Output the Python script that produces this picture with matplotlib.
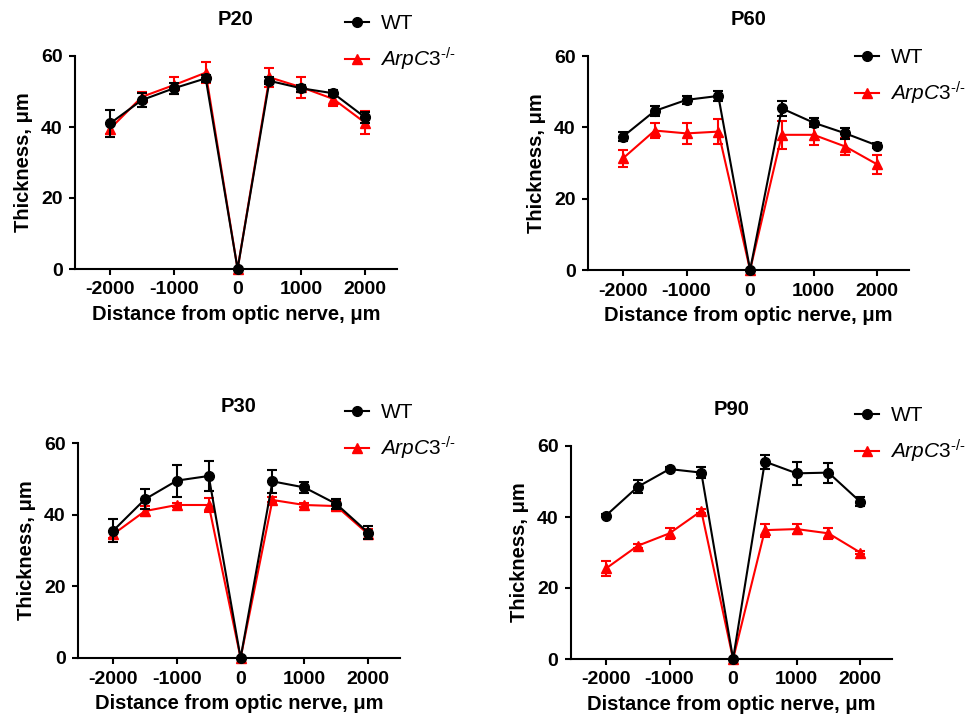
import numpy as np
import matplotlib
matplotlib.use("Agg")
import matplotlib.pyplot as plt
from matplotlib.lines import Line2D

plt.rcParams['font.family'] = ['Liberation Sans', 'DejaVu Sans']
plt.rcParams['axes.unicode_minus'] = False
plt.rcParams['mathtext.fontset'] = 'custom'
plt.rcParams['mathtext.rm'] = 'Liberation Sans'
plt.rcParams['mathtext.it'] = 'Liberation Sans:italic'

distance = [-2000, -1500, -1000, -500, 0, 500, 1000, 1500, 2000]

# P20
p20_wt = [41.0, 47.6, 50.9, 53.7, 0, 53.0, 50.9, 49.5, 42.7]
p20_wt_err = [3.7, 2.1, 1.5, 1.0, 0, 1.0, 1.0, 0.8, 1.5]
p20_ko = [39.5, 48.5, 51.8, 55.3, 0, 54.0, 51.2, 47.9, 41.2]
p20_ko_err = [1.5, 1.5, 2.4, 2.9, 0, 2.6, 3.0, 2.0, 3.3]

# P60
p60_wt = [37.4, 44.6, 47.7, 48.8, 0, 45.3, 41.3, 38.3, 34.9]
p60_wt_err = [1.2, 1.5, 1.2, 1.5, 0, 2.0, 1.2, 1.5, 0.7]
p60_ko = [31.3, 39.1, 38.3, 38.8, 0, 37.9, 37.9, 34.6, 29.6]
p60_ko_err = [2.4, 2.0, 3.0, 3.5, 0, 4.0, 2.8, 2.3, 2.6]

# P30
p30_wt = [35.5, 44.3, 49.5, 50.8, 0, 49.3, 47.6, 43.0, 35.0]
p30_wt_err = [3.2, 2.8, 4.5, 4.3, 0, 3.2, 1.6, 1.5, 1.8]
p30_ko = [34.5, 41.0, 42.7, 42.7, 0, 44.1, 42.7, 42.4, 34.6]
p30_ko_err = [1.0, 1.3, 0.5, 2.0, 0, 0.7, 0.5, 1.3, 1.5]

# P90
p90_wt = [40.4, 48.5, 53.5, 52.5, 0, 55.6, 52.3, 52.5, 44.3]
p90_wt_err = [0.5, 1.8, 0.5, 1.5, 0, 2.0, 3.2, 2.8, 1.2]
p90_ko = [25.5, 31.9, 35.4, 41.7, 0, 36.3, 36.6, 35.4, 30.0]
p90_ko_err = [2.2, 0.5, 1.5, 0.5, 0, 1.8, 1.3, 1.5, 0.5]

titles = ['P20', 'P60', 'P30', 'P90']
wt_data = [p20_wt, p60_wt, p30_wt, p90_wt]
wt_errs = [p20_wt_err, p60_wt_err, p30_wt_err, p90_wt_err]
ko_data = [p20_ko, p60_ko, p30_ko, p90_ko]
ko_errs = [p20_ko_err, p60_ko_err, p30_ko_err, p90_ko_err]

W, H = 971, 725
# axes boxes in pixels: left, right, top, bottom
boxes = [(75, 397, 56, 269), (588, 909, 56, 270), (78, 400, 443, 658), (571, 892, 446, 659)]
# legend anchor (pixels): handle start x, top y
legend_pos = [(345, 14), (855, 48), (345, 403), (855, 406)]

KO_RED = '#ff0000'
ko_label = r'$\mathit{ArpC3}^{\mathit{‐/‐}}$'

fig = plt.figure(figsize=(W / 100, H / 100), dpi=100)

for i in range(4):
    l, r, t, b = boxes[i]
    ax = fig.add_axes([l / W, 1 - b / H, (r - l) / W, (b - t) / H])
    ax.errorbar(distance, wt_data[i], yerr=wt_errs[i], color='black', marker='o', markersize=7,
                lw=1.5, elinewidth=1.5, capsize=3.5, capthick=1.5, clip_on=False, zorder=3)
    ax.errorbar(distance, ko_data[i], yerr=ko_errs[i], color=KO_RED, marker='^', markersize=7,
                lw=1.5, elinewidth=1.5, capsize=3.5, capthick=1.5, clip_on=False, zorder=2)
    ax.set_xlim(-2550, 2500)
    ax.set_ylim(0, 60)
    ax.set_xticks([-2000, -1000, 0, 1000, 2000])
    ax.set_yticks([0, 20, 40, 60])
    for s in ['top', 'right']:
        ax.spines[s].set_visible(False)
    for s in ['left', 'bottom']:
        ax.spines[s].set_linewidth(1.5)
    ax.tick_params(width=1.5, length=4, labelsize=14, pad=5)
    for lab in ax.get_xticklabels() + ax.get_yticklabels():
        lab.set_fontweight('bold')
    ax.set_xlabel('Distance from optic nerve, μm', fontsize=14.5, fontweight='bold', labelpad=5)
    ax.set_ylabel('Thickness, μm', fontsize=14.5, fontweight='bold', labelpad=6)
    ax.set_title(titles[i], fontsize=14.5, fontweight='bold', pad=22)
    handles = [Line2D([], [], color='black', marker='o', markersize=7, lw=1.5),
               Line2D([], [], color=KO_RED, marker='^', markersize=7, lw=1.5)]
    lx, ly = legend_pos[i]
    ax.legend(handles, ['WT', ko_label], loc='upper left', bbox_to_anchor=(lx / W, 1 - ly / H),
              bbox_transform=fig.transFigure, frameon=False, fontsize=15, handlelength=1.15,
              handletextpad=0.55, labelspacing=0.6, borderpad=0, borderaxespad=0)

fig.savefig('out.png', dpi=100)
